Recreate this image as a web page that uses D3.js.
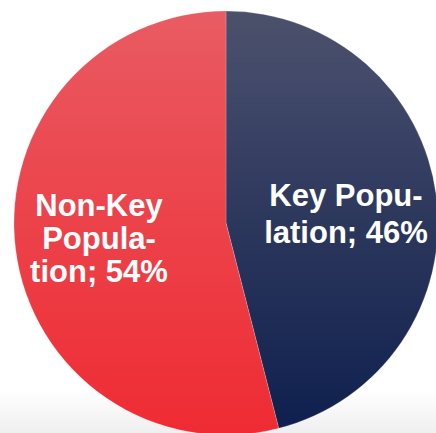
<!DOCTYPE html>
<html>
<head>
<meta charset="utf-8">
<script src="https://cdn.jsdelivr.net/npm/d3@7"></script>
<style>
  body { margin: 0; background: #fff; }
  svg { display: block; }
</style>
</head>
<body>
<svg id="chart" width="436" height="433"></svg>
<script>
// Data
const categories = ["Key Population", "Non-Key Population"];
const shares = [46, 54];
const labelLines = [["Key Popu-", "lation; 46%"], ["Non-Key", "Popula-", "tion; 54%"]];

const width = 436, height = 433;
const cx = 226, cy = 223, r = 212;

const svg = d3.select("#chart");
const defs = svg.append("defs");

// background fade at the bottom
const bg = defs.append("linearGradient").attr("id", "bg").attr("x1", 0).attr("y1", 0).attr("x2", 0).attr("y2", 1);
bg.append("stop").attr("offset", "0.9").attr("stop-color", "#ffffff");
bg.append("stop").attr("offset", "1").attr("stop-color", "#efefef");
svg.append("rect").attr("width", width).attr("height", height).attr("fill", "url(#bg)");

// gradients in the pie group's own coords (centre at 0,0)
function grad(id, stops) {
  const g = defs.append("linearGradient").attr("id", id)
    .attr("gradientUnits", "userSpaceOnUse")
    .attr("x1", 0).attr("y1", -r).attr("x2", 0).attr("y2", r);
  stops.forEach(s => g.append("stop").attr("offset", s[0]).attr("stop-color", s[1]));
}
grad("g0", [[0, "#4c516a"], [0.15, "#434a6a"], [0.5, "#2c375c"], [1, "#0e1f4e"]]);
grad("g1", [[0, "#e95c63"], [0.15, "#ea535b"], [0.5, "#ec424a"], [1, "#ef2b33"]]);

const pie = d3.pie().sort(null).value(d => d);
const arc = d3.arc().innerRadius(0).outerRadius(r);
const arcs = pie(shares);

const g = svg.append("g").attr("transform", `translate(${cx},${cy})`);

g.selectAll("path")
  .data(arcs)
  .join("path")
  .attr("d", arc)
  .attr("fill", (d, i) => `url(#g${i})`)
  .attr("stroke", "#ffffff")
  .attr("stroke-opacity", 0.3)
  .attr("stroke-width", 0.6);

// labels: first baseline relative to centre
const labelPos = [[120, -17], [-127, -7]];
const lineH = [37, 33];

arcs.forEach((d, i) => {
  const t = g.append("text")
    .attr("x", labelPos[i][0])
    .attr("y", labelPos[i][1])
    .attr("text-anchor", "middle")
    .attr("font-family", "Liberation Sans, Arial, sans-serif")
    .attr("font-weight", "bold")
    .attr("font-size", 31)
    .attr("fill", "#ffffff");
  labelLines[i].forEach((s, k) => {
    t.append("tspan").attr("x", labelPos[i][0]).attr("dy", k === 0 ? 0 : lineH[i]).text(s);
  });
});
</script>
</body>
</html>
